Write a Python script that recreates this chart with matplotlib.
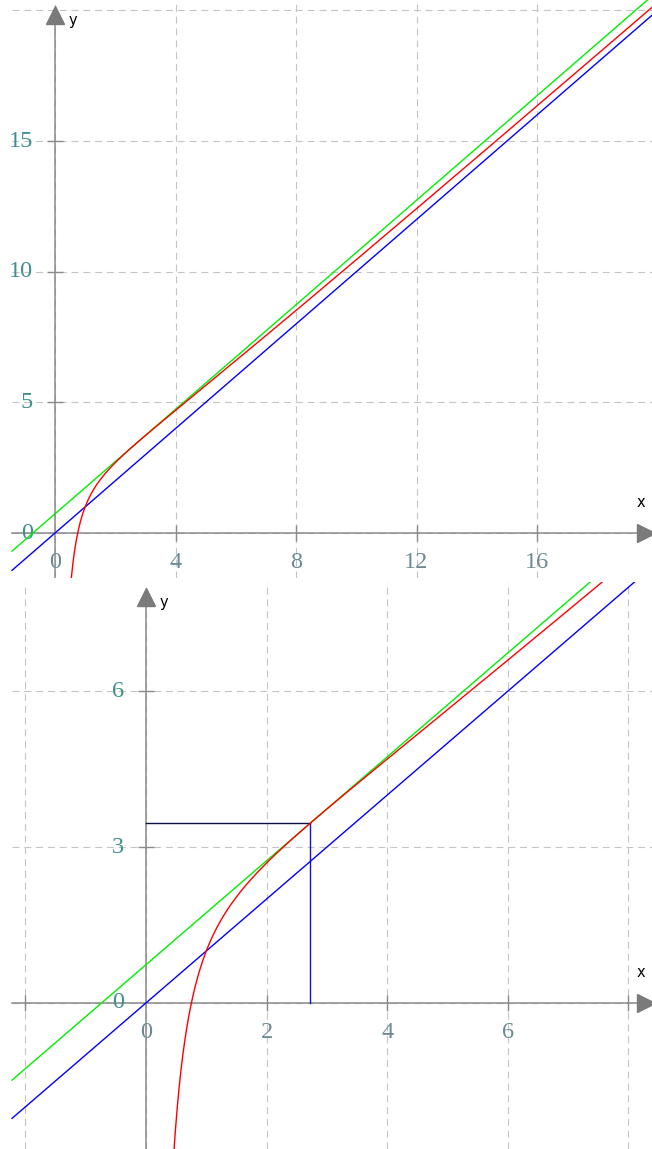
import numpy as np
import matplotlib.pyplot as plt

plt.rcParams['lines.scale_dashes'] = False

# f(x) = x + k*ln(x)/x, tangent at x = e, plus the line y = x
coef_k = 2.0
tangent_x = np.e
tangent_c = coef_k / np.e   # green: y = x + c

# panel settings: limits, grid lines, labelled ticks
top_xlim = (-1.826, 19.817)
top_ylim = (-1.72, 20.40)
top_xgrid = [0, 4, 8, 12, 16]
top_ygrid = [0, 5, 10, 15, 20]
top_xlabels = [0, 4, 8, 12, 16]
top_ylabels = [0, 5, 10, 15]

bot_xlim = (-2.42, 8.39)
bot_ylim = (-2.81, 8.10)
bot_xgrid = [-2, 0, 2, 4, 6, 8]
bot_ygrid = [0, 3, 6]
bot_xlabels = [0, 2, 4, 6]
bot_ylabels = [0, 3, 6]

AXIS_COL = '#8a8a8a'
GRID_COL = '#c4c4c4'
YLAB_COL = '#3f8f8f'
XLAB_COL = '#6c8a94'
SERIF = 'Liberation Serif'


def f(x):
    return x + coef_k * np.log(x) / x


def panel(ax, xlim, ylim, xgrid, ygrid, xlabels, ylabels, show_tangent):
    ax.set_xlim(xlim)
    ax.set_ylim(ylim)
    ax.set_axis_off()

    dx = (xlim[1] - xlim[0]) / 652.0
    dy = (ylim[1] - ylim[0]) / (ax.bbox.height)
    x_start = xlim[0] + 12 * dx   # small blank margin on the left

    for gx in xgrid:
        ax.axvline(gx, color=GRID_COL, lw=0.8, dashes=(5, 3.5), zorder=1)
    for gy in ygrid:
        ax.plot([x_start, xlim[1]], [gy, gy], color=GRID_COL, lw=0.8, dashes=(5, 3.5), zorder=1)

    # axis lines with arrow heads
    x_end = xlim[1] - 6 * dx
    y_end = ylim[1] - 15 * dy
    ax.plot([x_start, x_end], [0, 0], color=AXIS_COL, lw=1.1, zorder=2)
    ax.plot([0, 0], [ylim[0], y_end], color=AXIS_COL, lw=1.1, zorder=2)
    ax.plot([x_end], [0], marker='>', ms=13.5, color='#7a7a7a', clip_on=False, zorder=3)
    ax.plot([0], [y_end], marker='^', ms=13.5, color='#7a7a7a', clip_on=False, zorder=3)
    ax.annotate('x', (x_end, 0), xytext=(-4, 22), textcoords='offset points',
                fontsize=10.5, color='black', ha='center', va='center')
    ax.annotate('y', (0, y_end), xytext=(13, -4), textcoords='offset points',
                fontsize=10.5, color='black', ha='center', va='center')

    # tick marks
    xt = [v for v in xgrid if v != 0]
    yt = [v for v in ygrid if v != 0 and v < ylim[1] - 1]
    ax.plot(xt, [0] * len(xt), ls='none', marker='|', ms=11.5, mew=1.0, color=AXIS_COL, zorder=2)
    ax.plot([0] * len(yt), yt, ls='none', marker='_', ms=11.5, mew=1.0, color=AXIS_COL, zorder=2)

    for v in xlabels:
        ax.annotate(str(v), (v, 0), xytext=(0, -21), textcoords='offset points',
                    fontsize=17.5, family=SERIF, color=XLAB_COL, ha='center', va='center')
    for v in ylabels:
        ax.annotate(str(v), (0, v), xytext=(-16, 0), textcoords='offset points',
                    fontsize=17.5, family=SERIF, color=YLAB_COL, ha='right', va='center')

    xs = np.linspace(x_start, xlim[1], 200)
    ax.plot(xs, xs, color='blue', lw=1.0, zorder=4)
    ax.plot(xs, xs + tangent_c, color='#00ee00', lw=1.0, zorder=4)
    xr = np.linspace(0.2, xlim[1], 800)
    ax.plot(xr, f(xr), color='red', lw=1.0, zorder=5)

    if show_tangent:
        ft = f(tangent_x)
        ax.plot([0, tangent_x], [ft, ft], color='#10104a', lw=1.0, zorder=4)
        ax.plot([tangent_x, tangent_x], [0, ft], color='#1010d0', lw=1.0, zorder=4)


fig = plt.figure(figsize=(6.52, 11.49), dpi=100)
H = 1149.0
ax1 = fig.add_axes([0, 1 - 578 / H, 1, 578 / H])
ax2 = fig.add_axes([0, 0, 1, 567 / H])

panel(ax1, top_xlim, top_ylim, top_xgrid, top_ygrid, top_xlabels, top_ylabels, False)
panel(ax2, bot_xlim, bot_ylim, bot_xgrid, bot_ygrid, bot_xlabels, bot_ylabels, True)

fig.savefig('out.png', dpi=100)
